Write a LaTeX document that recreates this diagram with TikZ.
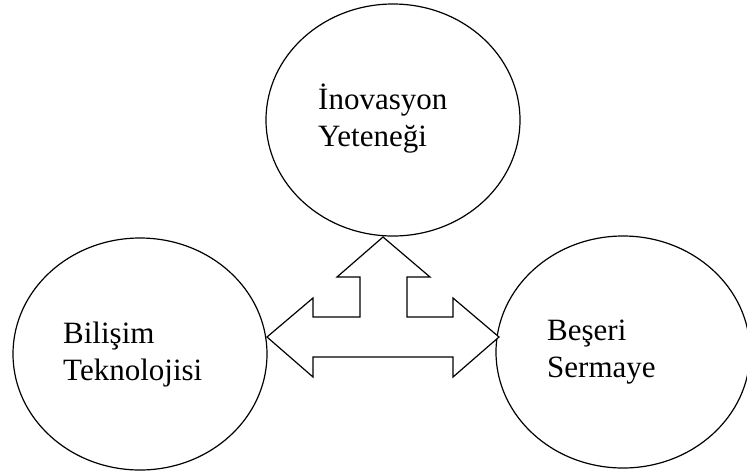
\documentclass[tikz,border=0pt]{standalone}
\usepackage{fontspec}
\setmainfont{Liberation Serif}
\usetikzlibrary{shapes.geometric}

\tikzset{
  bubble/.style={draw, ellipse, line width=1.2pt, minimum width=254pt, minimum height=232pt, inner sep=0pt},
  bubbletext/.style={font=\fontsize{31}{37}\selectfont, align=left, anchor=base west, inner sep=0pt},
  blockarrow/.style={draw, line width=1.2pt, line join=miter, fill=white}
}

\begin{document}
\begin{tikzpicture}[x=1pt, y=-1pt]
\useasboundingbox (0,0) rectangle (747,475);

% ── Three factors ──
\node[bubble] (inov) at (393,120) {};
\node[bubble] (bilisim) at (140,354) {};
\node[bubble] (beseri) at (623,352) {};

% labels sit on the baseline of their second line
\node[bubbletext] (inovtxt) at (318,146) {İnovasyon\\Yeteneği};
\node[bubbletext] (bilisimtxt) at (63,380) {Bilişim\\Teknolojisi};
\node[bubbletext] (beseritxt) at (547,377) {Beşeri\\Sermaye};

% ── Three-way block arrow ──
\coordinate (hub) at (383,337);
\begin{scope}[shift={(hub)}]
  \draw[blockarrow] (-116,0) -- (-70,-39) -- (-70,-20) -- (-23,-20) -- (-23,-60) -- (-46,-60)
    -- (0,-100) -- (47,-60) -- (24,-60) -- (24,-20) -- (70,-20) -- (70,-39)
    -- (116,0) -- (70,40) -- (70,20) -- (-70,20) -- (-70,40) -- cycle;
\end{scope}

\end{tikzpicture}
\end{document}
